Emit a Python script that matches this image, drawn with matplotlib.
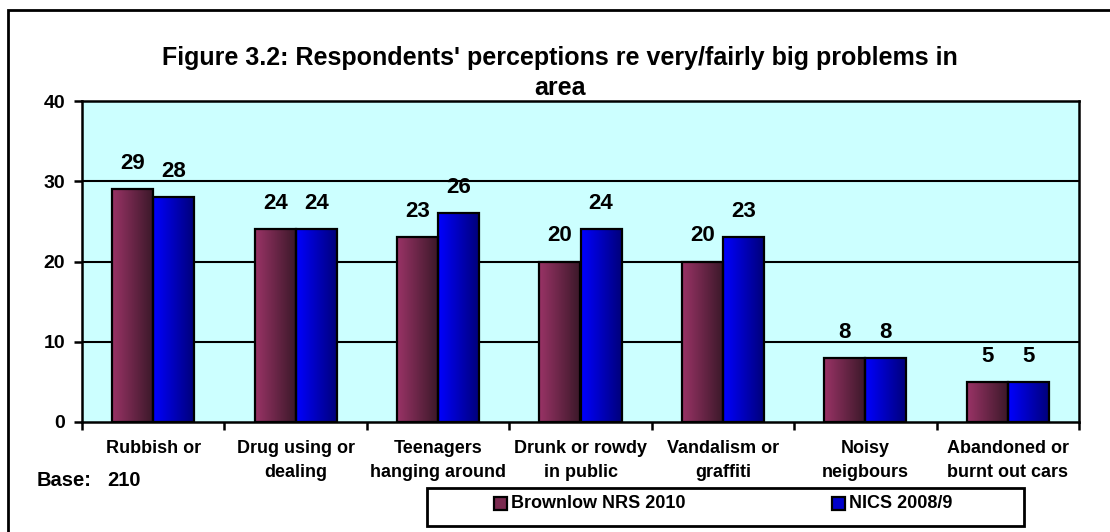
import numpy as np
import matplotlib
matplotlib.use("Agg")
import matplotlib.pyplot as plt
from matplotlib.patches import Rectangle
from matplotlib.colors import LinearSegmentedColormap

categories = ["Rubbish or", "Drug using or\ndealing", "Teenagers\nhanging around",
              "Drunk or rowdy\nin public", "Vandalism or\ngraffiti", "Noisy\nneigbours",
              "Abandoned or\nburnt out cars"]
brownlow = [29, 24, 23, 20, 20, 8, 5]
nics = [28, 24, 26, 24, 23, 8, 5]
series_names = ["Brownlow NRS 2010", "NICS 2008/9"]
title = "Figure 3.2: Respondents' perceptions re very/fairly big problems in\narea"

plt.rcParams['font.family'] = ['Liberation Sans', 'DejaVu Sans']
plt.rcParams['font.weight'] = 'bold'

W, H = 1110, 532
fig = plt.figure(figsize=(W / 100, H / 100), dpi=100)
fig.patch.set_facecolor('white')

# plot area in pixels
left, top, right, bottom = 82, 101, 1079, 422
ax = fig.add_axes([left / W, 1 - bottom / H, (right - left) / W, (bottom - top) / H])
ax.set_facecolor('#CCFFFF')

maroon = LinearSegmentedColormap.from_list('m', ['#993366', '#3A1828'])
blue = LinearSegmentedColormap.from_list('b', ['#0000FF', '#000078'])
grad = np.linspace(0, 1, 64).reshape(1, -1)

bw = 0.288
x = np.arange(len(categories))
for vals, cmap, off in [(brownlow, maroon, -bw / 2), (nics, blue, bw / 2)]:
    bars = ax.bar(x + off, vals, width=bw, facecolor='none', edgecolor='black',
                  linewidth=1.6, zorder=4)
    for b, v in zip(bars, vals):
        x0 = b.get_x()
        ax.imshow(grad, cmap=cmap, aspect='auto', extent=[x0, x0 + bw, 0, v],
                  zorder=3, interpolation='bilinear')
        ax.annotate(str(v), (x0 + bw / 2, v), xytext=(0, 11), textcoords='offset points',
                    ha='center', va='bottom', fontsize=16, fontweight='bold')

ax.set_xlim(-0.5, len(categories) - 0.5)
ax.set_ylim(0, 40)
ax.set_yticks([0, 10, 20, 30, 40])
for yv in [10, 20, 30]:
    ax.axhline(yv, color='black', linewidth=1.5, zorder=2)

for s in ax.spines.values():
    s.set_linewidth(1.8)
    s.set_color('black')

ax.set_xticks(x)
ax.set_xticklabels(categories, fontsize=13, fontweight='bold', linespacing=1.55, va='top')
ax.set_xticks(np.arange(len(categories) + 1) - 0.5, minor=True)
ax.tick_params(axis='x', which='major', length=0, pad=13)
ax.tick_params(axis='x', which='minor', length=6, width=1.8, direction='out')
ax.tick_params(axis='y', length=6, width=1.8, direction='out', pad=6, labelsize=14)
for t in ax.get_yticklabels():
    t.set_fontweight('bold')

fig.text(560 / W, 1 - 73 / H, title, ha='center', va='center', fontsize=18,
         fontweight='bold', linespacing=1.3, multialignment='center')

fig.text(37 / W, 1 - 486 / H, "Base:", ha='left', va='baseline', fontsize=14.5,
         fontweight='bold')
fig.text(107 / W, 1 - 486 / H, "210", ha='left', va='baseline', fontsize=14.5,
         fontweight='bold')

# outer border (only top and left visible)
fig.add_artist(Rectangle((8 / W, -0.1), 1.2, 1 - 10 / H + 0.1, transform=fig.transFigure,
                         facecolor='none', edgecolor='black', linewidth=2))

# legend box
fig.add_artist(Rectangle((427 / W, 1 - 526 / H), (1024 - 427) / W, 38 / H,
                         transform=fig.transFigure, facecolor='white', edgecolor='black',
                         linewidth=2))
for name, col, mx in [(series_names[0], '#7A2A50', 494), (series_names[1], '#0000CC', 832)]:
    fig.add_artist(Rectangle((mx / W, 1 - 510 / H), 13 / W, 13 / H,
                             transform=fig.transFigure, facecolor=col, edgecolor='black',
                             linewidth=1.6))
    fig.text((mx + 17) / W, 1 - 503 / H, name, ha='left', va='center', fontsize=13,
             fontweight='bold')

fig.savefig("out.png", dpi=100)
